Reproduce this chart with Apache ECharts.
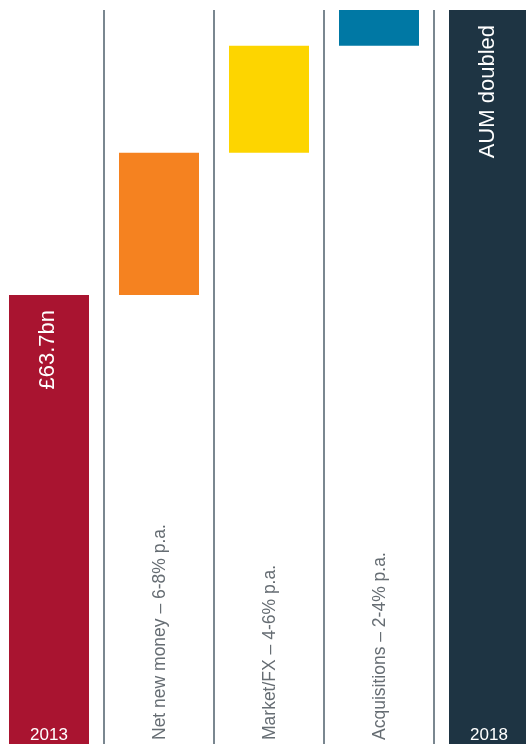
<!DOCTYPE html>
<html>
<head>
<meta charset="utf-8">
<script src="https://cdn.jsdelivr.net/npm/echarts@6/dist/echarts.min.js"></script>
<style>
  html, body { margin: 0; padding: 0; background: #ffffff; }
  #chart { width: 526px; height: 744px; }
</style>
</head>
<body>
<div id="chart"></div>
<script>
// AUM bridge 2013 -> 2018 (£bn)
const categories = ['2013', 'Net new money – 6-8% p.a.', 'Market/FX – 4-6% p.a.', 'Acquisitions – 2-4% p.a.', '2018'];
const startAUM = 63.7;
const increments = [31.8, 23.9, 8.0];
const endAUM = 127.4;
const totalLabels = ['£63.7bn', 'AUM doubled'];
const barColors = ['#a91430', '#f58220', '#fdd500', '#0078a4', '#1e3443'];

// rows: [category index, low, high, isTotal]
const rows = [[0, 0, startAUM, 1]];
let running = startAUM;
increments.forEach(function (v, i) {
  rows.push([i + 1, running, running + v, 0]);
  running += v;
});
rows.push([categories.length - 1, 0, endAUM, 1]);

const FONT = '"Liberation Sans", Arial, Helvetica, sans-serif';
const BAR_W = 80;

function renderItem(params, api) {
  const i = api.value(0);
  const lo = api.value(1);
  const hi = api.value(2);
  const isTotal = api.value(3) === 1;
  const cs = params.coordSys;
  const topPt = api.coord([i, hi]);
  const cx = topPt[0];
  const bottomY = isTotal ? cs.y + cs.height : api.coord([i, lo])[1];
  const children = [{
    type: 'rect',
    shape: { x: cx - BAR_W / 2, y: topPt[1], width: BAR_W, height: bottomY - topPt[1] },
    style: { fill: barColors[i] }
  }];
  if (isTotal) {
    const t = i === 0 ? totalLabels[0] : totalLabels[1];
    children.push({
      type: 'text', x: cx - 1, y: topPt[1] + 15, rotation: Math.PI / 2,
      style: { text: t, fill: '#ffffff', font: '22px ' + FONT, align: 'right', verticalAlign: 'middle' }
    });
    children.push({
      type: 'text', x: cx, y: cs.y + cs.height - 9,
      style: { text: categories[i], fill: '#ffffff', font: '17px ' + FONT, align: 'center', verticalAlign: 'middle' }
    });
  } else {
    children.push({
      type: 'text', x: cx + 1, y: cs.y + cs.height - 4, rotation: Math.PI / 2,
      style: { text: categories[i], fill: '#666d73', font: '17.5px ' + FONT, align: 'left', verticalAlign: 'middle' }
    });
  }
  return { type: 'group', children: children };
}

const chart = echarts.init(document.getElementById('chart'), null, { renderer: 'canvas' });
chart.setOption({
  animation: false,
  backgroundColor: '#ffffff',
  grid: { left: -6, right: -18, top: 10, bottom: 0, containLabel: false, outerBoundsMode: 'none' },
  xAxis: {
    type: 'category',
    data: categories,
    boundaryGap: true,
    axisLine: { show: false },
    axisTick: { show: false },
    axisLabel: { show: false },
    splitLine: { show: true, interval: 0, lineStyle: { color: '#4e5f6b', width: 1.5 } }
  },
  yAxis: {
    type: 'value',
    min: -36.7,
    max: 127.4,
    show: false,
    splitLine: { show: false }
  },
  series: [{
    type: 'custom',
    renderItem: renderItem,
    encode: { x: 0, y: 2 },
    clip: false,
    data: rows
  }]
});
</script>
</body>
</html>
